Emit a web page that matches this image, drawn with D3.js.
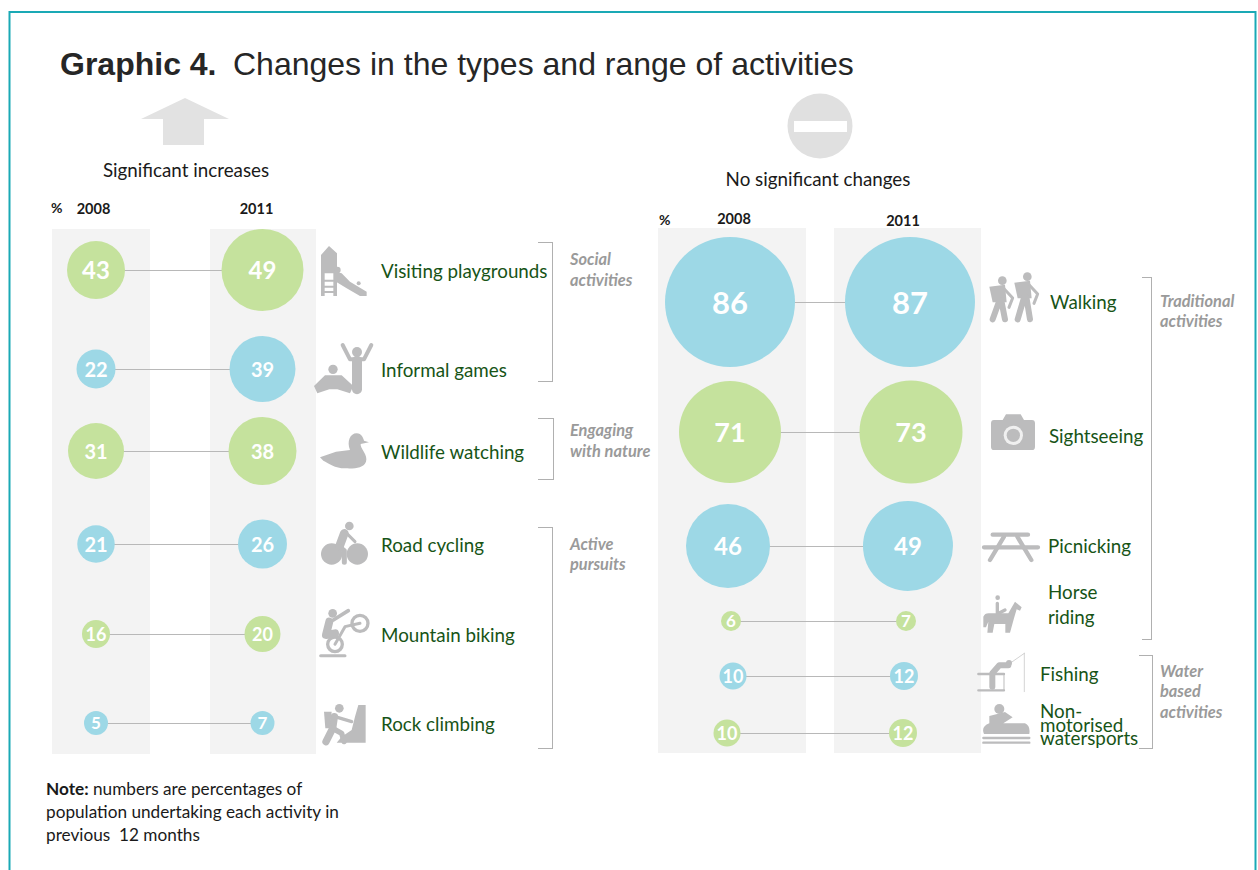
<!DOCTYPE html>
<html>
<head>
<meta charset="utf-8">
<script src="https://cdn.jsdelivr.net/npm/d3@7"></script>
<style>
  html, body { margin: 0; padding: 0; background: #fff; overflow: hidden; }
  text { font-family: Lato, "Noto Sans", sans-serif; white-space: pre; }
</style>
</head>
<body>
<script>
// Left panel: significant increases
var leftActivities = ["Visiting playgrounds", "Informal games", "Wildlife watching", "Road cycling", "Mountain biking", "Rock climbing"];
var left2008 = [43, 22, 31, 21, 16, 5];
var left2011 = [49, 39, 38, 26, 20, 7];
var leftColours = ["green", "blue", "green", "blue", "green", "blue"];

// Right panel: no significant changes
var rightActivities = ["Walking", "Sightseeing", "Picnicking", "Horse riding", "Fishing", "Non-motorised watersports"];
var right2008 = [86, 71, 46, 6, 10, 10];
var right2011 = [87, 73, 49, 7, 12, 12];
var rightColours = ["blue", "green", "blue", "green", "blue", "green"];

var years = ["2008", "2011"];
var colours = { green: "#c5e29d", blue: "#9dd8e6" };

var svg = d3.select("body").append("svg").attr("width", 1258).attr("height", 870);

// frame runs off the bottom of the page
svg.append("rect").attr("x", 9.5).attr("y", 12).attr("width", 1246).attr("height", 900)
  .attr("fill", "none").attr("stroke", "#1aa9b5").attr("stroke-width", 2);

var title = svg.append("text").attr("x", 60).attr("y", 75)
  .style("font-family", "'Liberation Sans', Arial, sans-serif").style("font-size", "32px").attr("fill", "#262626");
title.append("tspan").style("font-weight", "bold").text("Graphic 4.");
title.append("tspan").attr("x", 233).text("Changes in the types and range of activities");

// header symbols
svg.append("path").attr("d", "M141 119 L185 98 L229 119 H204 V145 H163 V119 Z").attr("fill", "#e2e2e2");
svg.append("circle").attr("cx", 820).attr("cy", 126).attr("r", 32.5).attr("fill", "#e0e0e0");
svg.append("rect").attr("x", 794).attr("y", 121).attr("width", 53).attr("height", 11).attr("fill", "#fff");

function plainText(x, y, str, size, opts) {
  opts = opts || {};
  return svg.append("text").attr("x", x).attr("y", y).text(str)
    .attr("text-anchor", opts.anchor || "start")
    .style("font-size", size + "px")
    .style("font-weight", opts.weight || "normal")
    .style("font-style", opts.italic ? "italic" : "normal")
    .attr("fill", opts.fill || "#1a1a1a");
}

plainText(186, 177, "Significant increases", 18.8, { anchor: "middle" });
plainText(818, 186, "No significant changes", 18.8, { anchor: "middle" });

plainText(51, 213, "%", 14, { weight: "bold" });
plainText(93.5, 214, years[0], 14.5, { weight: "bold", anchor: "middle" });
plainText(256.5, 214, years[1], 14.5, { weight: "bold", anchor: "middle" });
plainText(659, 225, "%", 14, { weight: "bold" });
plainText(734, 224, years[0], 14.5, { weight: "bold", anchor: "middle" });
plainText(903, 226, years[1], 14.5, { weight: "bold", anchor: "middle" });

// grey column bands
var bands = [[52, 98, 229, 525], [210, 106, 229, 525], [658, 148, 228, 525], [834, 147, 228, 525]];
svg.selectAll("rect.band").data(bands).enter().append("rect").attr("class", "band")
  .attr("x", function (d) { return d[0]; }).attr("y", function (d) { return d[2]; })
  .attr("width", function (d) { return d[1]; }).attr("height", function (d) { return d[3]; })
  .attr("fill", "#f3f3f3");

// row placement and bubble scales. The original's bubbles are hand sized, not strictly
// proportional, so these are piecewise fits to the picture
var leftY = d3.scaleOrdinal(leftActivities, [270, 369, 451, 544, 634, 723]);
var leftX = d3.scalePoint(years, [96, 262.5]);
var leftR = d3.scaleLinear([5, 7, 16, 20, 22, 26, 31, 38, 43, 49], [12, 12, 14, 18, 19.5, 24.5, 28, 34, 29, 41]);

var rightY = d3.scaleOrdinal(rightActivities, [302, 432, 546, 621, 676, 733]);
var rightX2008 = d3.scaleOrdinal(rightActivities, [730, 730, 728, 731, 733, 727]);
var rightX2011 = d3.scaleOrdinal(rightActivities, [910, 911, 908, 906, 904, 903]);
var rightR = d3.scaleLinear([6, 7, 10, 12, 46, 49, 71, 73, 86, 87], [10, 10, 13.5, 14, 42, 45, 51, 51.5, 65, 65]);

var numberSize = d3.scaleThreshold([10, 21, 43, 60, 80], [17, 18, 20, 24, 27, 31]);

function drawRows(cls, names, v2008, v2011, cols, x08, x11, y, r) {
  var rows = names.map(function (n, i) { return { name: n, a: v2008[i], b: v2011[i], col: cols[i] }; });
  var g = svg.selectAll("g." + cls).data(rows).enter().append("g").attr("class", cls);
  g.append("line")
    .attr("x1", function (d) { return x08(d.name); }).attr("x2", function (d) { return x11(d.name); })
    .attr("y1", function (d) { return y(d.name); }).attr("y2", function (d) { return y(d.name); })
    .attr("stroke", "#b8b8b8").attr("stroke-width", 1).attr("shape-rendering", "crispEdges");
  [["a", x08], ["b", x11]].forEach(function (k) {
    g.append("circle")
      .attr("cx", function (d) { return k[1](d.name); }).attr("cy", function (d) { return y(d.name); })
      .attr("r", function (d) { return r(d[k[0]]); })
      .attr("fill", function (d) { return colours[d.col]; });
    g.append("text")
      .attr("x", function (d) { return k[1](d.name); }).attr("y", function (d) { return y(d.name); })
      .attr("dy", "0.38em").attr("text-anchor", "middle")
      .style("font-weight", "bold").style("font-size", function (d) { return numberSize(d[k[0]]) + "px"; })
      .attr("fill", "#fff").text(function (d) { return d[k[0]]; });
  });
}

drawRows("lrow", leftActivities, left2008, left2011, leftColours,
  function () { return leftX("2008"); }, function () { return leftX("2011"); }, leftY, leftR);
drawRows("rrow", rightActivities, right2008, right2011, rightColours, rightX2008, rightX2011, rightY, rightR);

// activity labels
var labelGreen = "#175417";
leftActivities.forEach(function (n) { plainText(381, leftY(n) + 8, n, 18.8, { fill: labelGreen }); });
plainText(1050, 309, "Walking", 18.8, { fill: labelGreen });
plainText(1049, 443, "Sightseeing", 18.8, { fill: labelGreen });
plainText(1048, 553, "Picnicking", 18.8, { fill: labelGreen });
plainText(1048, 599, "Horse", 18.8, { fill: labelGreen });
plainText(1048, 624, "riding", 18.8, { fill: labelGreen });
plainText(1040, 681, "Fishing", 18.8, { fill: labelGreen });
// tight leading is how the original sets this label
var raft = plainText(1040, 718, "", 18.8, { fill: labelGreen });
raft.append("tspan").attr("x", 1040).text("Non-");
raft.append("tspan").attr("x", 1040).attr("dy", 14).text("motorised");
raft.append("tspan").attr("x", 1040).attr("dy", 13).text("watersports");

// brackets: [tick start x, spine x, top y, bottom y]
var brackets = [[538, 552, 242, 381], [538, 553, 418, 479], [538, 552, 527, 748], [1142, 1151, 277, 639], [1139, 1152, 655, 748]];
svg.selectAll("path.bracket").data(brackets).enter().append("path").attr("class", "bracket")
  .attr("d", function (d) {
    return d3.line()([[d[0], d[2]], [d[1], d[2]], [d[1], d[3]], [d[0], d[3]]]);
  })
  .attr("fill", "none").attr("stroke", "#b0b0b0").attr("stroke-width", 1).attr("shape-rendering", "crispEdges");

// group captions
var groupCaptions = [
  [570, 265, "Social"], [570, 286, "activities"],
  [570, 436, "Engaging"], [570, 457, "with nature"],
  [570, 550, "Active"], [570, 570, "pursuits"],
  [1160, 307, "Traditional"], [1160, 327, "activities"],
  [1160, 677, "Water"], [1160, 697, "based"], [1160, 718, "activities"]
];
groupCaptions.forEach(function (c) {
  plainText(c[0], c[1], c[2], 16.4, { weight: "bold", italic: true, fill: "#9a9a9a" });
});

// note
var note = plainText(46, 795, "", 17.2);
note.append("tspan").style("font-weight", "bold").text("Note:");
note.append("tspan").text(" numbers are percentages of");
plainText(46, 818, "population undertaking each activity in", 17.2);
plainText(46, 841, "previous  12 months", 17.2);

// pictograms, traced at 3x and scaled down
var grey = "#bcbcbd";
function icon(ox, oy, build) {
  var g = svg.append("g").attr("transform", "translate(" + ox + "," + oy + ") scale(0.3333)");
  build({
    fill: function (d) { g.append("path").attr("d", d).attr("fill", grey); },
    stroke: function (d, w, col) {
      g.append("path").attr("d", d).attr("fill", "none").attr("stroke", col || grey)
        .attr("stroke-width", w).attr("stroke-linecap", "round").attr("stroke-linejoin", "round");
    },
    dot: function (x, y, r, col) { g.append("circle").attr("cx", x).attr("cy", y).attr("r", r).attr("fill", col || grey); }
  });
}

// playground
icon(300, 220, function (p) {
  p.fill("M63 105 L87 78 L111 100 V228 H100 V160 H74 V228 H63 Z");
  p.fill("M74 105 H100 V130 H74 Z");
  p.stroke("M72 182 H100 M72 200 H100 M72 216 H100", 6);
  p.fill("M108 155 L125 160 L150 185 L200 215 V228 H180 L140 205 L108 185 Z");
  p.dot(112, 150, 10);
  p.dot(176, 190, 6);
});
// informal games
icon(300, 330, function (p) {
  p.dot(171, 66, 15);
  p.stroke("M128 45 L150 88 H192 L214 45", 12);
  p.stroke("M171 92 V178", 30);
  p.dot(99, 118, 14);
  p.fill("M75 136 H125 L160 168 L150 190 L112 178 H88 L52 190 L42 168 Z");
});
// duck
icon(300, 400, function (p) {
  p.fill("M60 172 L108 155 L150 150 C140 125 150 100 170 100 C185 100 190 115 192 122 L207 127 L182 132 C180 145 205 165 198 185 C190 205 165 206 135 205 C105 205 85 190 70 182 Z");
});
// road cycling
icon(300, 400, function (p) {
  p.dot(95, 462, 32);
  p.dot(172, 462, 32);
  p.dot(148, 378, 13);
  p.stroke("M133 400 L118 440", 26);
  p.stroke("M118 440 L133 452 V487", 15);
  p.stroke("M138 398 L165 425", 9);
});
// mountain biking
icon(300, 400, function (p) {
  p.stroke("M156 670 a24 24 0 1 0 48 0 a24 24 0 1 0 -48 0", 10);
  p.stroke("M83 733 a22 22 0 1 0 44 0 a22 22 0 1 0 -44 0", 10);
  p.stroke("M105 733 L135 680 L180 670", 9);
  p.dot(98, 640, 13);
  p.stroke("M88 665 L78 705 L105 700", 24);
  p.stroke("M100 660 L145 632", 11);
  p.stroke("M62 767 H135", 9);
});
// rock climbing
icon(300, 400, function (p) {
  p.fill("M175 915 H197 V1028 H110 L125 1010 L155 990 L165 950 Z");
  p.dot(118, 925, 13);
  p.stroke("M103 950 L98 985 L78 1025", 22);
  p.stroke("M98 985 L125 1000 L132 1025", 16);
  p.stroke("M105 950 L155 965", 10);
  p.fill("M72 935 H95 L90 985 H76 Z");
});
// walking pair
icon(960, 260, function (p) {
  [[0, 62], [75, 50]].forEach(function (o) {
    var x = o[0], h = o[1];
    p.dot(x + 127, h, 13);
    p.fill("M" + (x + 88) + " " + (h + 18) + " L" + (x + 135) + " " + (h + 12) + " L" + (x + 140) + " " + (h + 65) + " H" + (x + 98) + " Z");
    p.stroke("M" + (x + 118) + " " + (h + 60) + " L" + (x + 98) + " 178 M" + (x + 124) + " " + (h + 60) + " L" + (x + 135) + " 178", 18);
    p.stroke("M" + (x + 130) + " " + (h + 22) + " L" + (x + 158) + " " + (h + 52) + " L" + (x + 147) + " " + (h + 80), 9);
  });
});
// camera
icon(960, 260, function (p) {
  p.fill("M102 480 H128 L138 463 H182 L192 480 H216 Q225 480 225 490 V560 Q225 570 216 570 H102 Q93 570 93 560 V490 Q93 480 102 480 Z");
  p.dot(160, 526, 29, "#f0f0f0");
  p.dot(160, 526, 20);
});
// picnic table
icon(960, 510, function (p) {
  p.stroke("M98 74 H204 M72 112 H234", 13);
  p.stroke("M132 80 L90 150 M172 80 L214 150", 13);
});
// horse and rider
icon(960, 510, function (p) {
  p.dot(113, 263, 7);
  p.stroke("M112 280 V312 L135 300", 10);
  p.fill("M70 320 Q75 308 90 310 H145 L165 275 L185 292 L180 302 L170 298 L162 325 L150 368 H136 L136 342 H103 L98 368 H82 L85 335 L78 352 H70 Z");
});
// fishing
icon(960, 510, function (p) {
  p.stroke("M193 430 V545", 2);
  p.stroke("M193 430 L150 460", 2);
  p.dot(147, 459, 9);
  p.stroke("M145 466 H118 L97 490 V530", 18);
  p.stroke("M55 492 H132 M55 541 H132", 7);
  p.stroke("M132 492 V541", 3);
});
// rafting
icon(960, 510, function (p) {
  p.dot(118, 597, 15);
  p.fill("M88 618 L135 606 L158 622 L130 640 H195 Q212 648 208 672 H72 Q62 650 88 640 Z");
  p.stroke("M70 684 H208 M70 698 H208", 7);
});
</script>
</body>
</html>
